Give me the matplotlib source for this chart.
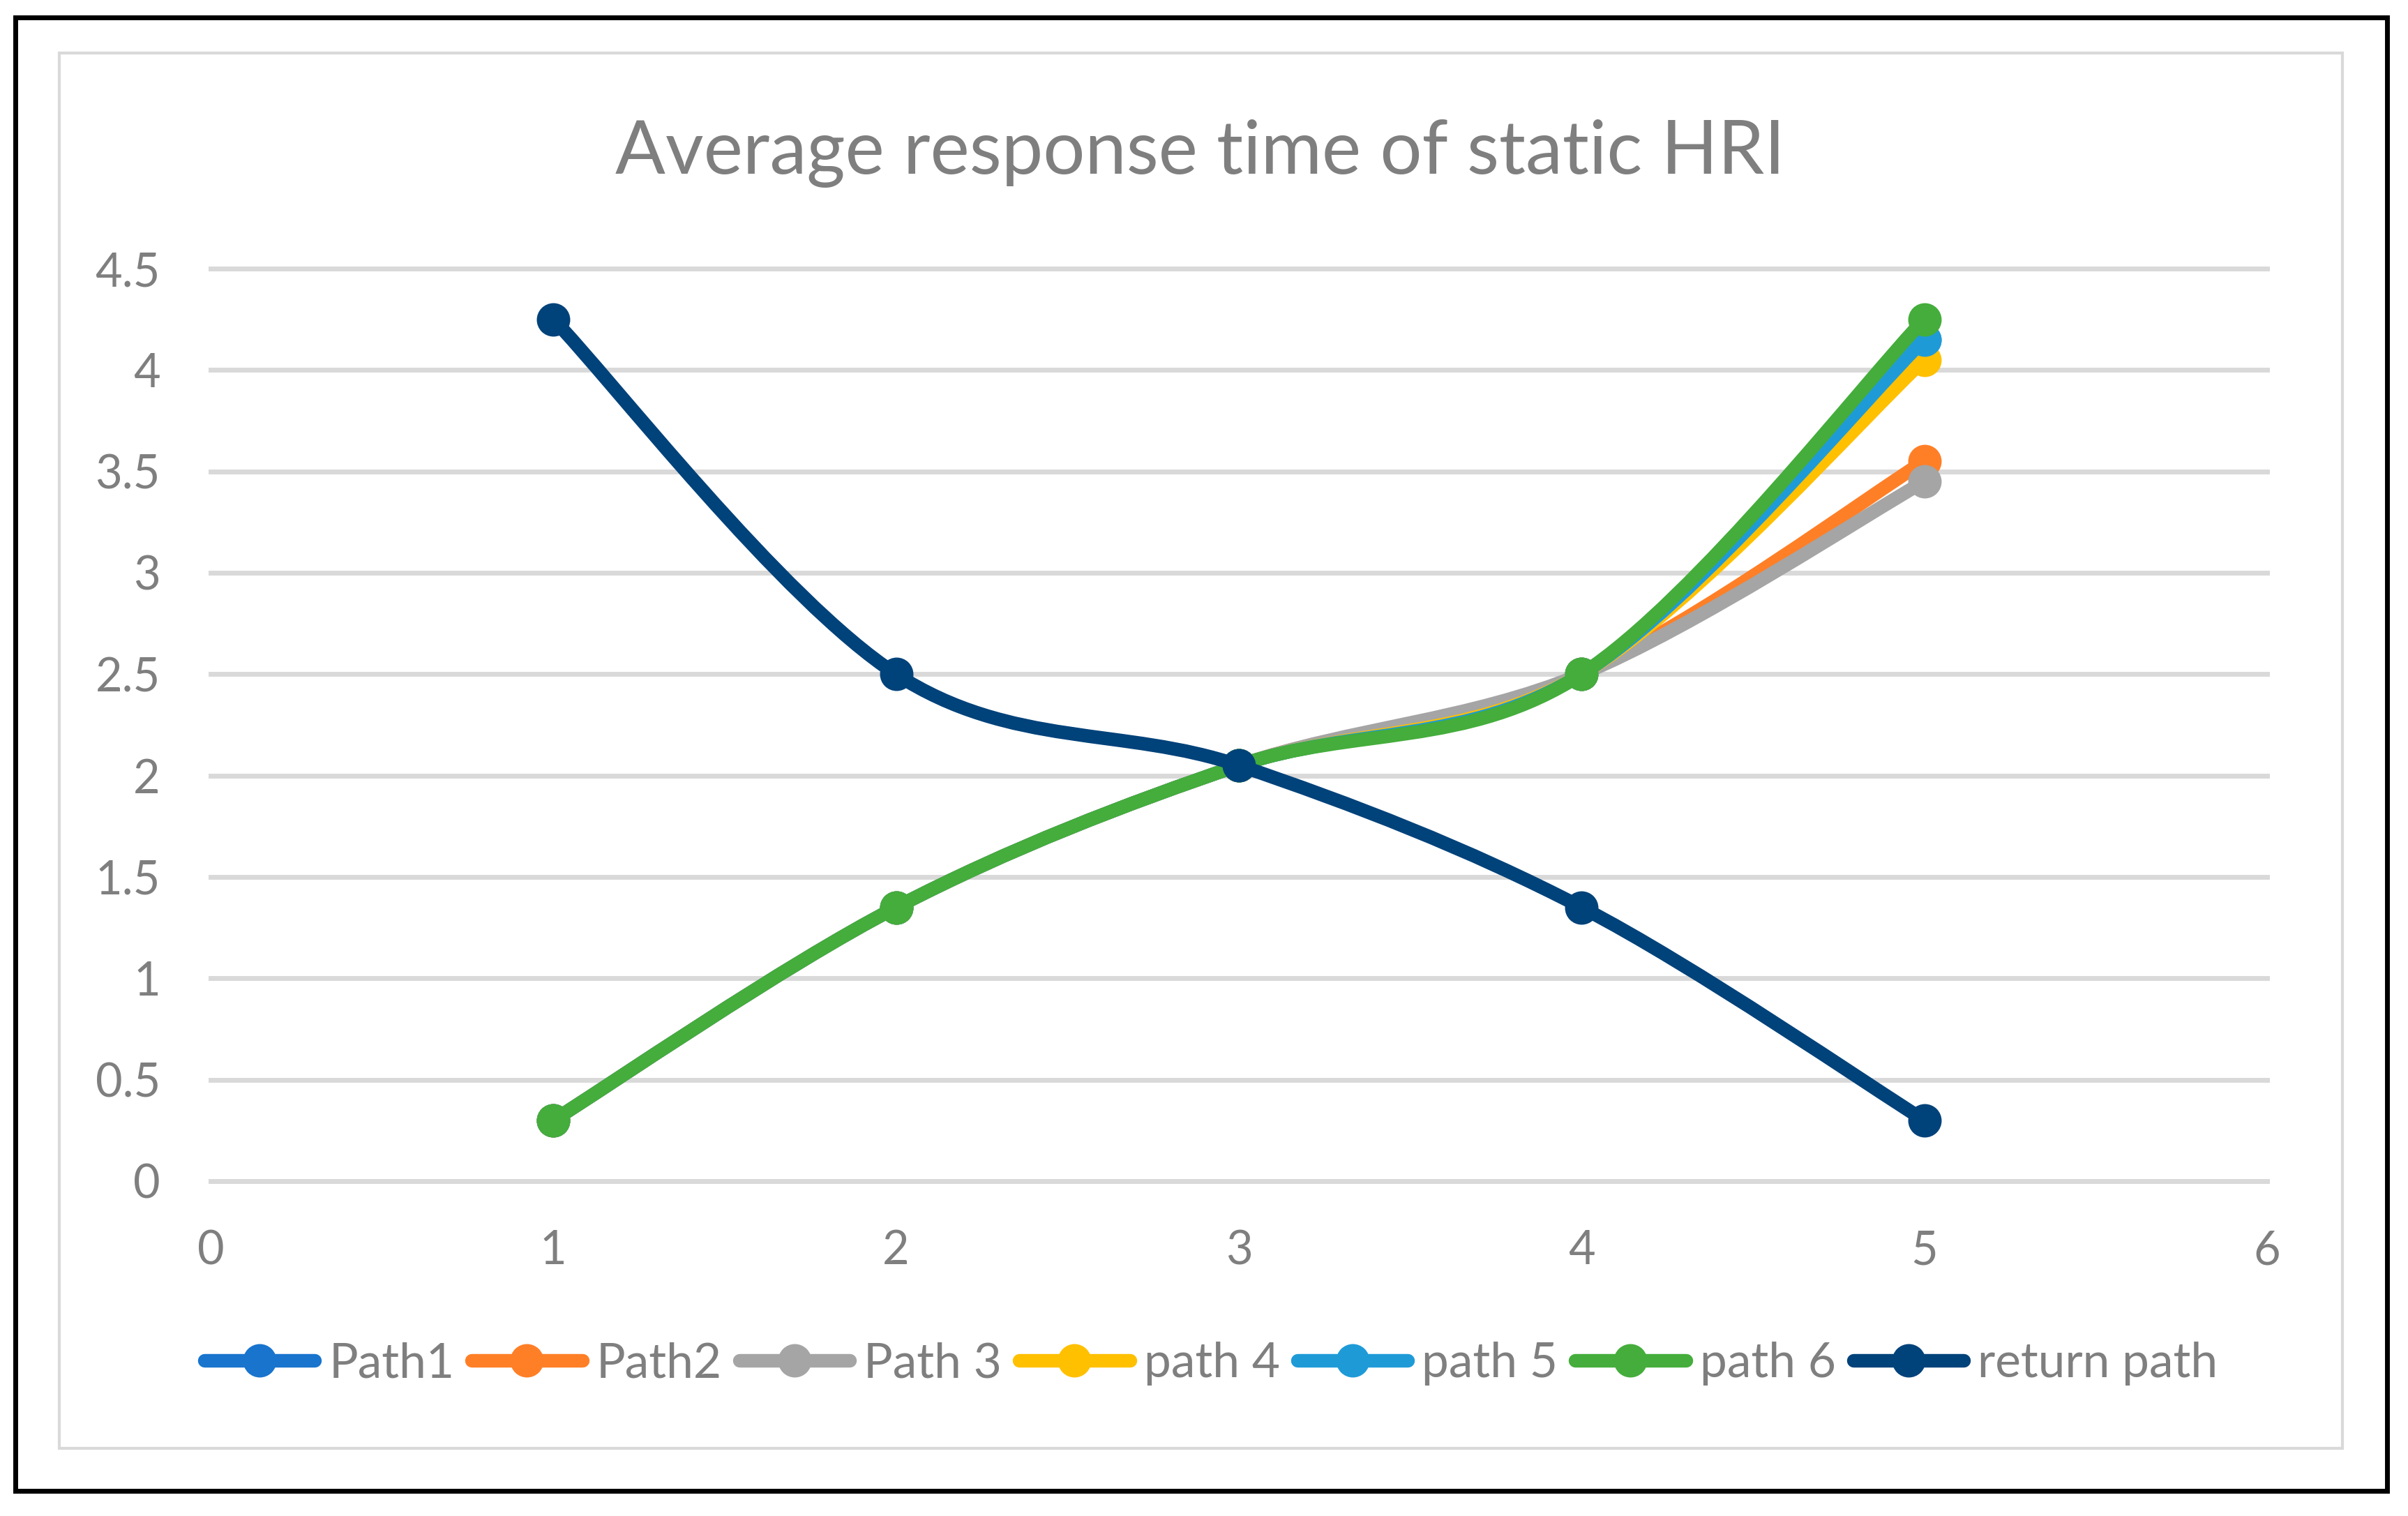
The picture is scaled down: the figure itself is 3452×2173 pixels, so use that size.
import numpy as np
import matplotlib
matplotlib.use('Agg')
import matplotlib.pyplot as plt
from matplotlib.path import Path
from matplotlib.patches import PathPatch, Rectangle
from matplotlib.lines import Line2D
from matplotlib.ticker import FuncFormatter

plt.rcParams['font.family'] = ['Lato', 'DejaVu Sans']

# data
x_vals = [1, 2, 3, 4, 5]
path1 = [0.3, 1.35, 2.05, 2.5, 4.15]
path2 = [0.3, 1.35, 2.05, 2.5, 3.55]
path3 = [0.3, 1.35, 2.05, 2.5, 3.45]
path4 = [0.3, 1.35, 2.05, 2.5, 4.05]
path5 = [0.3, 1.35, 2.05, 2.5, 4.15]
path6 = [0.3, 1.35, 2.05, 2.5, 4.25]
return_path = [4.25, 2.5, 2.05, 1.35, 0.3]

labels = ['Path1', 'Path2', 'Path 3', 'path 4', 'path 5', 'path 6', 'return path']
colors = ['#1874CD', '#FF7F27', '#A5A5A5', '#FFC000', '#1E9BD7', '#44AD3B', '#00427A']
series = [path1, path2, path3, path4, path5, path6, return_path]

x_ticks = [0, 1, 2, 3, 4, 5, 6]
y_ticks = [0, 0.5, 1, 1.5, 2, 2.5, 3, 3.5, 4, 4.5]

TXT = '#7f7f7f'
W, H = 3452, 2173
LW = 14
MS = 34.5


def smooth_path(xs, ys):
    # excel-like smoothed line: cubic bezier with catmull-rom control points
    pts = np.column_stack([xs, ys]).astype(float)
    n = len(pts)
    verts = [pts[0]]
    codes = [Path.MOVETO]
    for i in range(n - 1):
        p0 = pts[i - 1] if i > 0 else pts[i]
        p1 = pts[i]
        p2 = pts[i + 1]
        p3 = pts[i + 2] if i + 2 < n else pts[i + 1]
        c1 = p1 + (p2 - p0) / 6.0
        c2 = p2 - (p3 - p1) / 6.0
        verts += [c1, c2, p2]
        codes += [Path.CURVE4] * 3
    return Path(verts, codes)


def fx(px):
    return px / W


def fy(px):
    return 1 - px / H


fig = plt.figure(figsize=(W / 100, H / 100), dpi=100)
ax = fig.add_axes([fx(302), fy(1693), fx(3250) - fx(302), fy(385) - fy(1693)])

for k, (ys, c) in enumerate(zip(series, colors)):
    patch = PathPatch(smooth_path(x_vals, ys), facecolor='none', edgecolor=c,
                      lw=LW, capstyle='round', joinstyle='round', zorder=3 + k)
    ax.add_patch(patch)
    ax.plot(x_vals, ys, 'o', ms=MS, color=c, mec=c, mew=0, zorder=3 + k + 0.5)

ax.set_xlim(0, 6)
ax.set_ylim(0, 4.5)
ax.set_xticks(x_ticks)
ax.set_yticks(y_ticks)
ax.yaxis.set_major_formatter(FuncFormatter(lambda v, p: '%g' % v))
ax.xaxis.set_major_formatter(FuncFormatter(lambda v, p: '%g' % v))
ax.tick_params(length=0, labelsize=48, labelcolor=TXT)
ax.tick_params(axis='x', pad=50)
ax.tick_params(axis='y', pad=52)
for s in ax.spines.values():
    s.set_visible(False)
ax.yaxis.grid(True, color='#D9D9D9', lw=5)
ax.xaxis.grid(False)
ax.set_axisbelow(True)
for gl in ax.get_ygridlines():
    gl.set_clip_on(False)

fig.text(fx(1720), fy(249), 'Average response time of static HRI', fontsize=76.5,
         color=TXT, ha='center', va='baseline')

handles = [Line2D([], [], color=c, lw=LW, marker='o', ms=MS, mew=0,
                  solid_capstyle='round') for c in colors]
fig.legend(handles, labels, loc='center', bbox_to_anchor=(fx(1736), fy(1955)),
           ncol=7, frameon=False, fontsize=50, labelcolor=TXT,
           handlelength=2.28, handletextpad=0.29, columnspacing=0.36)

# chart area border and outer frame
fig.patches.append(Rectangle((fx(85), fy(2076)), fx(3357.5) - fx(85), fy(76.5) - fy(2076),
                             transform=fig.transFigure, fill=False, ec='#D9D9D9', lw=3))
fig.patches.append(Rectangle((fx(21.5), fy(2136.5)), fx(3421.5) - fx(21.5), fy(24.5) - fy(2136.5),
                             transform=fig.transFigure, fill=False, ec='black', lw=5))

fig.savefig('out.png', dpi=100, facecolor='white')
